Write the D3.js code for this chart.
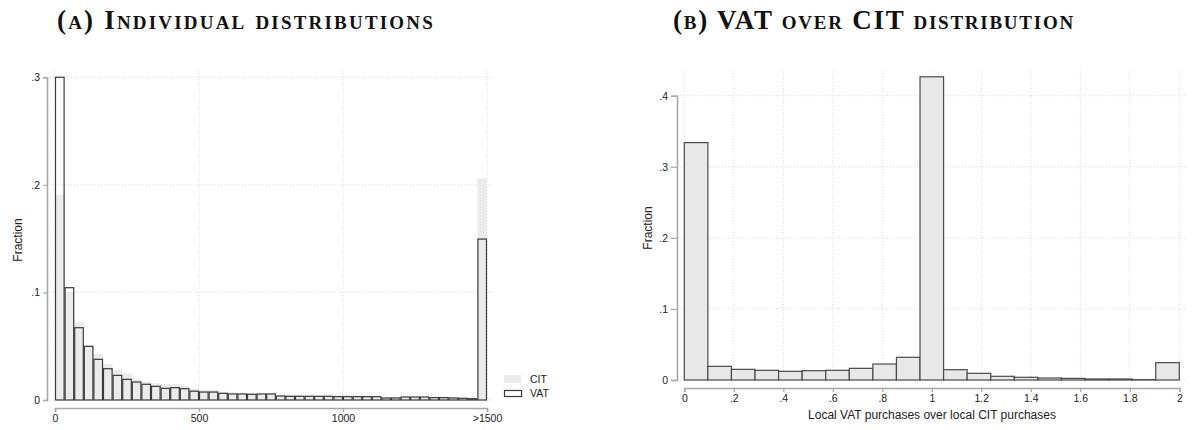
<!DOCTYPE html>
<html>
<head>
<meta charset="utf-8">
<script src="https://cdn.jsdelivr.net/npm/d3@7"></script>
<style>
  html, body { margin: 0; padding: 0; background: #fff; }
  svg { display: block; }
  .title { font-family: "Liberation Serif", "DejaVu Serif", serif; font-weight: bold; font-variant: small-caps; letter-spacing: 2.2px; fill: #111; }
  .title.b { letter-spacing: 1.75px; }
  .tick text, .lbl { font-family: "Liberation Sans", Arial, sans-serif; fill: #222; }
</style>
</head>
<body>
<svg id="chart" width="1192" height="430"></svg>
<script>
// Panel A: histogram of individual purchase amounts (45 bins over 0–1500, last bin is >1500)
const binWidthA = 1500 / 45;
const vatShares = [
  0.300, 0.1044, 0.0672, 0.0499, 0.0378, 0.0291, 0.0229, 0.0192, 0.0167, 0.0146,
  0.0127, 0.0108, 0.0115, 0.0105, 0.0082, 0.0074, 0.0074, 0.0062, 0.0056, 0.0056,
  0.0053, 0.0056, 0.0056, 0.0037, 0.0034, 0.0034, 0.0034, 0.0034, 0.0034, 0.0031,
  0.0031, 0.0031, 0.0031, 0.0031, 0.0019, 0.0019, 0.0028, 0.0028, 0.0028, 0.0022,
  0.0022, 0.0019, 0.0016, 0.0012, 0.1496
];
const citShares = [
  0.191, 0.100, 0.0722, 0.051, 0.0428, 0.0335, 0.0279, 0.0248, 0.0192, 0.0170,
  0.0155, 0.0149, 0.0149, 0.0130, 0.0105, 0.0095, 0.0093, 0.0077, 0.0071, 0.0065,
  0.0062, 0.0060, 0.0060, 0.0048, 0.0046, 0.0046, 0.0045, 0.0044, 0.0044, 0.0043,
  0.0043, 0.0041, 0.0038, 0.0035, 0.0022, 0.0022, 0.0026, 0.0026, 0.0026, 0.0024,
  0.0025, 0.0024, 0.0020, 0.0014, 0.206
];
const xTicksA = [0, 500, 1000, 1500];
const xTickLabelsA = ["0", "500", "1000", ">1500"];
const yTicksA = [0, 0.1, 0.2, 0.3];
const legendItems = ["CIT", "VAT"];

// Panel B: ratio of local VAT purchases to local CIT purchases (21 bins over 0–2)
const binWidthB = 2 / 21;
const ratioShares = [
  0.334, 0.0192, 0.0150, 0.0136, 0.0122, 0.0131, 0.0136, 0.0164, 0.0225, 0.0319,
  0.4266, 0.0145, 0.0094, 0.0052, 0.0038, 0.0028, 0.0023, 0.0014, 0.0014, 0.0005,
  0.0244
];
const xTicksB = [0, 0.2, 0.4, 0.6, 0.8, 1, 1.2, 1.4, 1.6, 1.8, 2];
const yTicksB = [0, 0.1, 0.2, 0.3, 0.4];

const fmtFrac = d => d === 0 ? "0" : d3.format(".1f")(d).replace(/^0/, "");
const fmtRatio = d => d === 0 ? "0" : (d < 1 ? d3.format(".1f")(d).replace(/^0/, "") : d3.format("~g")(d));

const svg = d3.select("#chart");
const gridColor = "#d9d9d9";
const axisColor = "#a8a8a8";

function styleAxis(g) {
  g.select(".domain").attr("stroke", axisColor).attr("stroke-width", 1.6);
  g.selectAll(".tick line").attr("stroke", axisColor).attr("stroke-width", 1.2);
  g.selectAll(".tick text").attr("font-size", 10.5);
}

// ---------- Panel A ----------
const xA = d3.scaleLinear().domain([0, 1500]).range([55, 487]);
const yA = d3.scaleLinear().domain([0, 0.3]).range([400, 77.3]);

const gA = svg.append("g");

// grid
gA.append("g").selectAll("line").data(yTicksA).join("line")
  .attr("x1", 47).attr("x2", 493)
  .attr("y1", d => yA(d)).attr("y2", d => yA(d))
  .attr("stroke", gridColor).attr("stroke-dasharray", "1,2");
gA.append("g").selectAll("line").data(xTicksA).join("line")
  .attr("x1", d => xA(d)).attr("x2", d => xA(d))
  .attr("y1", 70).attr("y2", 400)
  .attr("stroke", gridColor).attr("stroke-dasharray", "1,2");

// CIT bars (filled, behind)
gA.append("g").selectAll("rect").data(citShares).join("rect")
  .attr("x", (d, i) => xA(i * binWidthA))
  .attr("width", (d, i) => xA((i + 1) * binWidthA) - xA(i * binWidthA))
  .attr("y", d => yA(d))
  .attr("height", d => yA(0) - yA(d))
  .attr("fill", "#ebebeb");

// VAT bars (outline only)
gA.append("g").selectAll("rect").data(vatShares).join("rect")
  .attr("x", (d, i) => xA(i * binWidthA) + 0.5)
  .attr("width", (d, i) => xA((i + 1) * binWidthA) - xA(i * binWidthA) - 1)
  .attr("y", d => yA(d))
  .attr("height", d => yA(0) - yA(d))
  .attr("fill", "none")
  .attr("stroke", "#3a3a3a")
  .attr("stroke-width", 1.2);

// axes
gA.append("g").attr("transform", "translate(47,0)")
  .call(d3.axisLeft(yA).tickValues(yTicksA).tickFormat(fmtFrac).tickSize(4).tickPadding(3))
  .call(styleAxis);
gA.append("g").attr("transform", "translate(0,408)")
  .call(d3.axisBottom(xA).tickValues(xTicksA).tickFormat((d, i) => xTickLabelsA[i]).tickSize(4).tickPadding(3))
  .call(styleAxis);

gA.append("text").attr("class", "lbl")
  .attr("transform", "translate(22,240) rotate(-90)")
  .attr("text-anchor", "middle").attr("font-size", 12)
  .attr("fill", "#3a2a3a")
  .text("Fraction");

// legend
const leg = gA.append("g");
leg.append("rect").attr("x", 504).attr("y", 375).attr("width", 17).attr("height", 8).attr("fill", "#ebebeb");
leg.append("rect").attr("x", 504.5).attr("y", 390.5).attr("width", 17).attr("height", 6).attr("fill", "#fff")
  .attr("stroke", "#3a3a3a").attr("stroke-width", 1.2);
leg.selectAll("text").data(legendItems).join("text").attr("class", "lbl")
  .attr("x", 530).attr("y", (d, i) => 383 + i * 14)
  .attr("font-size", 10.5)
  .text(d => d);

svg.append("text").attr("class", "title")
  .attr("x", 246).attr("y", 28.5).attr("text-anchor", "middle").attr("font-size", 27)
  .text("(a) Individual distributions");

// ---------- Panel B ----------
const xB = d3.scaleLinear().domain([0, 2]).range([684.3, 1179.3]);
const yB = d3.scaleLinear().domain([0, 0.4]).range([380, 95.7]);

const gB = svg.append("g");

gB.append("g").selectAll("line").data(yTicksB).join("line")
  .attr("x1", 677).attr("x2", 1185)
  .attr("y1", d => yB(d)).attr("y2", d => yB(d))
  .attr("stroke", gridColor).attr("stroke-dasharray", "1,2");
gB.append("g").selectAll("line").data(xTicksB).join("line")
  .attr("x1", d => xB(d)).attr("x2", d => xB(d))
  .attr("y1", 70).attr("y2", 380)
  .attr("stroke", gridColor).attr("stroke-dasharray", "1,2");

gB.append("g").selectAll("rect").data(ratioShares).join("rect")
  .attr("x", (d, i) => xB(i * binWidthB))
  .attr("width", (d, i) => xB((i + 1) * binWidthB) - xB(i * binWidthB))
  .attr("y", d => yB(d))
  .attr("height", d => yB(0) - yB(d))
  .attr("fill", "#e8e8e8")
  .attr("stroke", "#4a4a4a")
  .attr("stroke-width", 1.2);

gB.append("g").attr("transform", "translate(677,0)")
  .call(d3.axisLeft(yB).tickValues(yTicksB).tickFormat(fmtFrac).tickSize(6).tickPadding(3))
  .call(styleAxis);
gB.append("g").attr("transform", "translate(0,388)")
  .call(d3.axisBottom(xB).tickValues(xTicksB).tickFormat(fmtRatio).tickSize(4).tickPadding(3))
  .call(styleAxis);

gB.append("text").attr("class", "lbl")
  .attr("transform", "translate(652,228) rotate(-90)")
  .attr("text-anchor", "middle").attr("font-size", 12)
  .attr("fill", "#3a2a3a")
  .text("Fraction");

gB.append("text").attr("class", "lbl")
  .attr("x", 932).attr("y", 419).attr("text-anchor", "middle").attr("font-size", 12)
  .text("Local VAT purchases over local CIT purchases");

svg.append("text").attr("class", "title b")
  .attr("x", 874).attr("y", 28.5).attr("text-anchor", "middle").attr("font-size", 27)
  .text("(b) VAT over CIT distribution");
</script>
</body>
</html>
